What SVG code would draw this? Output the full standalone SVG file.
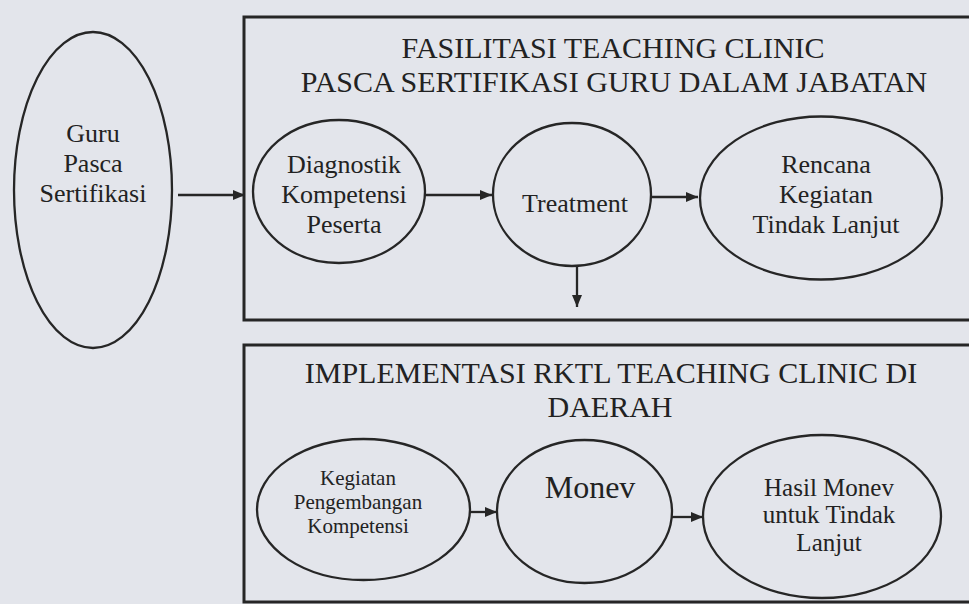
<svg xmlns="http://www.w3.org/2000/svg" width="969" height="604" viewBox="0 0 969 604">
<style>
.bg{fill:#e3e5eb}
.box{fill:none;stroke:#262626;stroke-width:3}
.node{fill:none;stroke:#262626;stroke-width:2.3}
.t{font-family:"Liberation Serif","Times New Roman",serif;fill:#222;text-anchor:middle}
.title{font-size:30px}
.n26{font-size:26px}
.n25{font-size:25px}
.n21{font-size:21px}
.n32{font-size:32px}
.conn{stroke:#262626;stroke-width:2.3;fill:none}
</style>
<defs>
<marker id="ah" viewBox="0 0 12 10" refX="12" refY="5" markerWidth="12" markerHeight="10" markerUnits="userSpaceOnUse" orient="auto">
<path d="M0,0 L12,5 L0,10 Z" fill="#262626"/>
</marker>
</defs>
<rect class="bg" x="0" y="0" width="969" height="604"/>

<g id="box-fasilitasi">
<rect class="box" x="244" y="17" width="740" height="303"/>
<text class="t title" x="613" y="58">FASILITASI TEACHING CLINIC</text>
<text class="t title" x="614" y="92">PASCA SERTIFIKASI GURU DALAM JABATAN</text>
</g>

<g id="box-implementasi">
<rect class="box" x="244" y="345" width="740" height="257"/>
<text class="t title" x="611" y="383">IMPLEMENTASI RKTL TEACHING CLINIC DI</text>
<text class="t title" x="610" y="417">DAERAH</text>
</g>

<g id="guru">
<ellipse class="node" cx="93" cy="190" rx="79" ry="158"/>
<text class="t n26" x="93" y="142">Guru</text>
<text class="t n26" x="93" y="172">Pasca</text>
<text class="t n26" x="93" y="202">Sertifikasi</text>
</g>

<g id="diagnostik">
<ellipse class="node" cx="339" cy="191.5" rx="86" ry="71.5"/>
<text class="t n26" x="344" y="173">Diagnostik</text>
<text class="t n26" x="344" y="203">Kompetensi</text>
<text class="t n26" x="344" y="233">Peserta</text>
</g>

<g id="treatment">
<ellipse class="node" cx="572" cy="194.5" rx="79" ry="71.5"/>
<text class="t n26" x="575" y="212">Treatment</text>
</g>

<g id="rencana">
<ellipse class="node" cx="821" cy="198" rx="121" ry="81.5"/>
<text class="t n26" x="826" y="173">Rencana</text>
<text class="t n26" x="826" y="203">Kegiatan</text>
<text class="t n26" x="826" y="233">Tindak Lanjut</text>
</g>

<g id="kegiatan">
<ellipse class="node" cx="363.5" cy="509.5" rx="106.5" ry="70.5"/>
<text class="t n21" x="358" y="485">Kegiatan</text>
<text class="t n21" x="358" y="509">Pengembangan</text>
<text class="t n21" x="358" y="533">Kompetensi</text>
</g>

<g id="monev">
<ellipse class="node" cx="584.5" cy="511.5" rx="87.5" ry="71.5"/>
<text class="t n32" x="590" y="498">Monev</text>
</g>

<g id="hasil">
<ellipse class="node" cx="822" cy="516.5" rx="119" ry="81.5"/>
<text class="t n25" x="829" y="496">Hasil Monev</text>
<text class="t n25" x="829" y="523">untuk Tindak</text>
<text class="t n25" x="829" y="551">Lanjut</text>
</g>

<g id="connectors">
<line class="conn" x1="178" y1="195" x2="245" y2="195" marker-end="url(#ah)"/>
<line class="conn" x1="425" y1="195" x2="492" y2="195" marker-end="url(#ah)"/>
<line class="conn" x1="651" y1="197" x2="698" y2="197" marker-end="url(#ah)"/>
<line class="conn" x1="577" y1="266" x2="577" y2="307" marker-end="url(#ah)"/>
<line class="conn" x1="470" y1="512" x2="497" y2="512" marker-end="url(#ah)"/>
<line class="conn" x1="672" y1="517" x2="703" y2="517" marker-end="url(#ah)"/>
</g>
</svg>
